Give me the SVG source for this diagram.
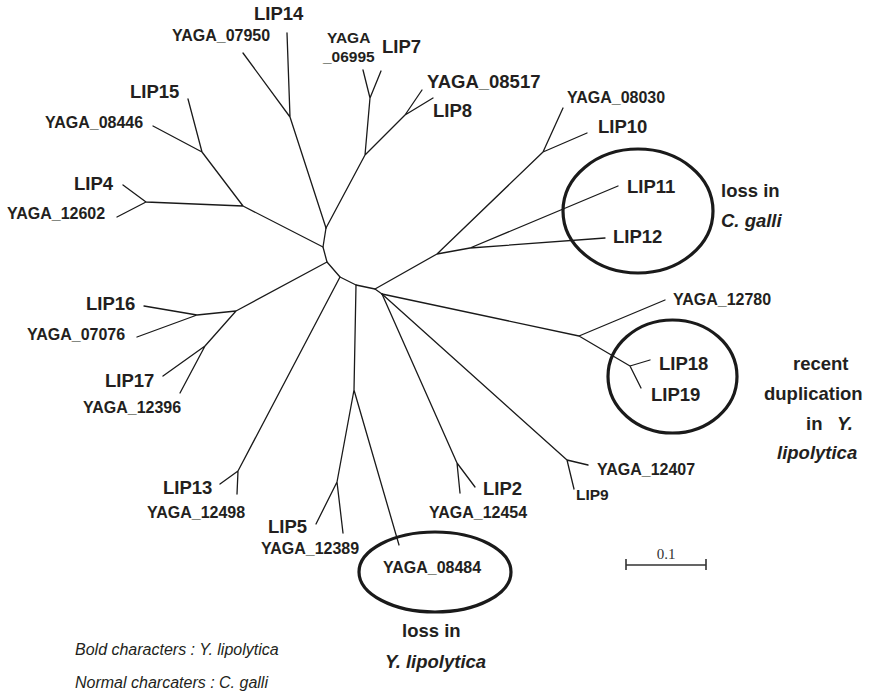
<svg xmlns="http://www.w3.org/2000/svg" width="870" height="692" viewBox="0 0 870 692">
<style>
.e{fill:none;stroke:#1a1a1a;stroke-width:1.3;stroke-linecap:round;stroke-linejoin:round}
.ring{fill:none;stroke:#1a1a1a;stroke-width:3.2}
text{font-family:"Liberation Sans",Arial,Helvetica,sans-serif;fill:#231f20}
.L{font-size:18.5px;font-weight:bold}
.Y{font-size:16px;font-weight:bold}
.bi{font-size:18.5px;font-weight:bold;font-style:italic}
.leg{font-size:16px;font-style:italic}
.sc{font-family:"Liberation Serif","Times New Roman",serif;font-size:15px;fill:#333}
</style>
<rect width="870" height="692" fill="#fff"/>
<g id="connectors" class="e">
<polyline points="326,228 323,247 327,262 340,277 356,285 375,289 382,294"/>
<path d="M326,228L290,117M290,117L287,33M290,117L243,53"/>
<path d="M326,228L365,155M365,155L370,98M370,98L363,70M370,98L381,71M365,155L405,115M405,115L422,90M405,115L433,98"/>
<path d="M323,247L243,206M243,206L202,152M202,152L188,99M202,152L153,126M243,206L146,202M146,202L123,185M146,202L117,217"/>
<path d="M327,262L236,311M236,311L197,315M197,315L144,306M197,315L137,337M236,311L205,346M205,346L163,376M205,346L180,393"/>
<path d="M340,277L238,471M238,471L220,484M238,471L237,494"/>
<path d="M356,285L354,390M354,390L337,482M337,482L316,524M337,482L343,533M354,390L399,545"/>
<path d="M375,289L437,254M437,254L543,152M543,152L563,108M543,152L587,133M437,254L470,248M470,248L618,186M470,248L605,238"/>
<path d="M382,294L579,336M579,336L665,300M579,336L630,366M630,366L650,360M630,366L641,388"/>
<path d="M382,294L457,463M457,463L460,493M457,463L475,487"/>
<path d="M382,294L567,460M567,460L588,465M567,460L574,489"/>
</g>
<g id="annotations">
<ellipse class="ring" cx="638" cy="211" rx="75" ry="62"/>
<ellipse class="ring" cx="672.5" cy="376.5" rx="64.5" ry="56.5"/>
<ellipse class="ring" cx="435" cy="572" rx="76" ry="40"/>
<text class="L" x="721" y="197">loss in</text>
<text class="bi" x="721" y="227">C. galli</text>
<text class="L" x="793" y="370">recent</text>
<text class="L" x="764" y="400">duplication</text>
<text class="L" x="806" y="430">in</text>
<text class="bi" x="837" y="430">Y.</text>
<text class="bi" x="777" y="459">lipolytica</text>
<text class="L" x="402" y="637">loss in</text>
<text class="bi" x="385" y="668">Y. lipolytica</text>
</g>
<g id="LIP14"><text class="L" x="254" y="20">LIP14</text></g>
<g id="YAGA_07950"><text class="Y" x="172" y="41">YAGA_07950</text></g>
<g id="YAGA_06995"><text class="Y" x="327" y="43" style="font-size:15.5px">YAGA</text><text class="Y" x="323" y="62" style="font-size:15.5px">_06995</text></g>
<g id="LIP7"><text class="L" x="382" y="53">LIP7</text></g>
<g id="YAGA_08517"><text class="L" x="427" y="88">YAGA_08517</text></g>
<g id="LIP8"><text class="L" x="433" y="117">LIP8</text></g>
<g id="LIP15"><text class="L" x="130" y="98">LIP15</text></g>
<g id="YAGA_08446"><text class="Y" x="45" y="128">YAGA_08446</text></g>
<g id="LIP4"><text class="L" x="74" y="190">LIP4</text></g>
<g id="YAGA_12602"><text class="Y" x="7" y="219">YAGA_12602</text></g>
<g id="YAGA_08030"><text class="Y" x="567" y="103">YAGA_08030</text></g>
<g id="LIP10"><text class="L" x="598" y="133">LIP10</text></g>
<g id="LIP11"><text class="L" x="627" y="193">LIP11</text></g>
<g id="LIP12"><text class="L" x="613" y="243">LIP12</text></g>
<g id="YAGA_12780"><text class="Y" x="673" y="305">YAGA_12780</text></g>
<g id="LIP18"><text class="L" x="659" y="370">LIP18</text></g>
<g id="LIP19"><text class="L" x="651" y="401">LIP19</text></g>
<g id="YAGA_12407"><text class="Y" x="597" y="475">YAGA_12407</text></g>
<g id="LIP9"><text class="Y" x="576" y="500" style="font-size:15.5px">LIP9</text></g>
<g id="LIP2"><text class="L" x="483" y="495">LIP2</text></g>
<g id="YAGA_12454"><text class="Y" x="429" y="518">YAGA_12454</text></g>
<g id="YAGA_08484"><text class="Y" x="383" y="573">YAGA_08484</text></g>
<g id="LIP5"><text class="L" x="268" y="533">LIP5</text></g>
<g id="YAGA_12389"><text class="Y" x="261" y="554">YAGA_12389</text></g>
<g id="LIP13"><text class="L" x="163" y="494">LIP13</text></g>
<g id="YAGA_12498"><text class="Y" x="147" y="518">YAGA_12498</text></g>
<g id="LIP16"><text class="L" x="86" y="310">LIP16</text></g>
<g id="YAGA_07076"><text class="Y" x="27" y="340">YAGA_07076</text></g>
<g id="LIP17"><text class="L" x="105" y="387">LIP17</text></g>
<g id="YAGA_12396"><text class="Y" x="83" y="413">YAGA_12396</text></g>
<g id="legend">
<text class="leg" x="75" y="655">Bold characters : Y. lipolytica</text>
<text class="leg" x="75" y="688">Normal charcaters : C. galli</text>
</g>
<g id="scale">
<path d="M626,565H706M626,559V570M706,559V570" fill="none" stroke="#333" stroke-width="1.6"/>
<text class="sc" x="666" y="559" text-anchor="middle">0.1</text>
</g>
</svg>
